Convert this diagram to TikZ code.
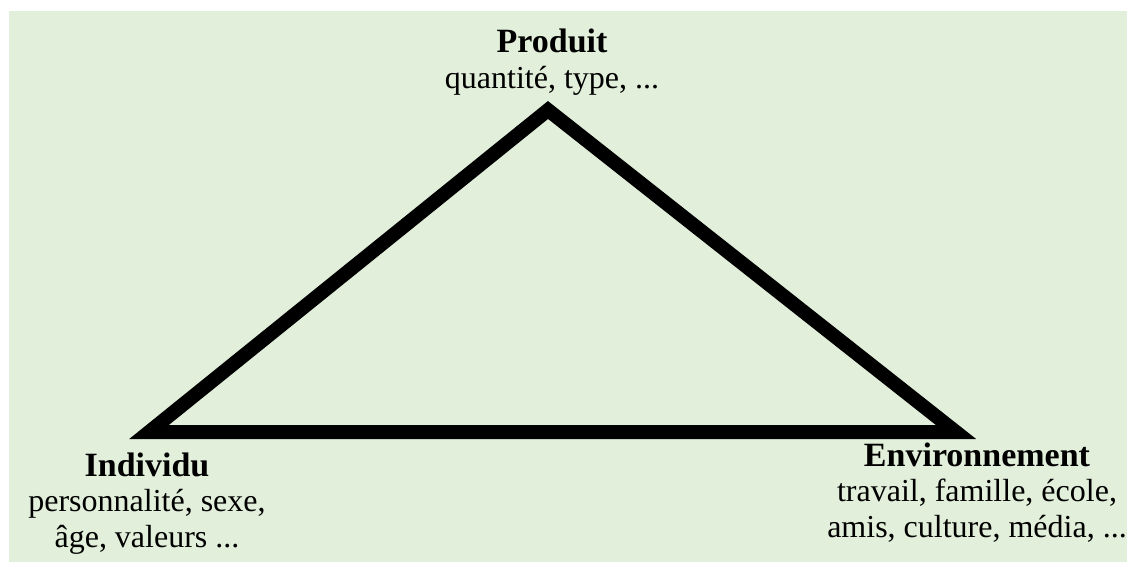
\documentclass[tikz,border=0pt]{standalone}
\usepackage{fontspec}
\setmainfont{Liberation Serif}
\usepackage{xcolor}
\usepackage{tikz}
\usetikzlibrary{positioning, calc}
\definecolor{bggreen}{RGB}{226,239,218}
\definecolor{mydark}{RGB}{0,0,0}
\newcommand{\vtitle}[1]{{\fontsize{25.5}{26.5}\selectfont\bfseries #1}}
\tikzset{
  vlabel/.style={align=center, inner sep=0pt, anchor=base,
    font=\fontsize{24}{26.5}\selectfont, text=mydark},
  edge/.style={line width=10.5pt, color=mydark, line join=miter}
}
\begin{document}
\begin{tikzpicture}[x=0.75pt, y=-0.75pt]
\useasboundingbox (0,0) rectangle (1127,562);
% background panel
\fill[bggreen] (9,11) rectangle (1127,562);

%--- TRIANGLE ---
\coordinate (apex) at (548,110);
\coordinate (lft) at (149,432);
\coordinate (rgt) at (956,432);
\draw[edge] (lft) -- (apex) -- (rgt) -- cycle;

%--- LABELS (anchored on last line) ---
\node[vlabel] (produit) at (552,88) {\vtitle{Produit}\\quantité, type, ...};
\node[vlabel] (individu) at (147,547) {\vtitle{Individu}\\personnalité, sexe,\\âge, valeurs ...};
\node[vlabel] (environ) at (977,537) {\vtitle{Environnement}\\travail, famille, école,\\amis, culture, média, ...};
\end{tikzpicture}
\end{document}
